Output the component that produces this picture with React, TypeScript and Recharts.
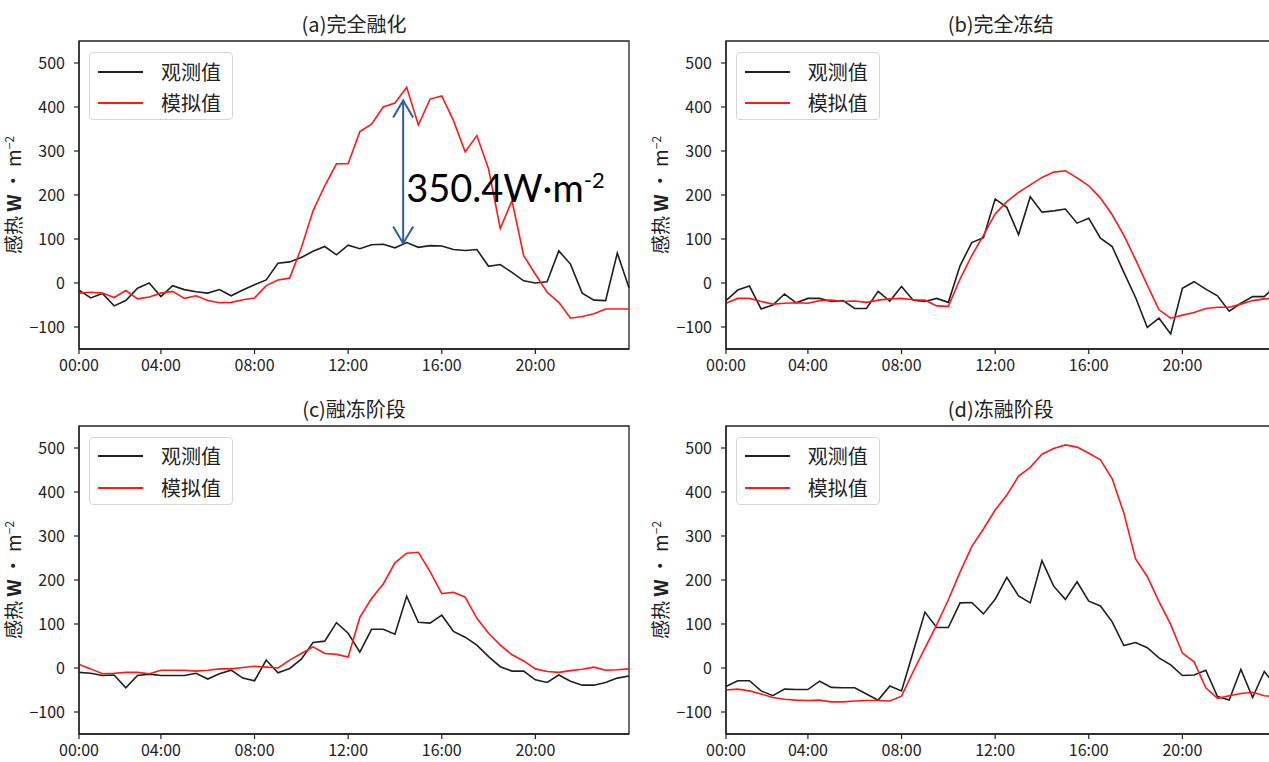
import React from 'react';
import { LineChart, Line, XAxis, YAxis, ReferenceLine, ReferenceArea } from 'recharts';

// x positions are half-hour steps; the figure labels index 0 as 00:00
const TICK_IDX = [0, 7, 15, 23, 31, 39];
const TICK_LABELS = ['00:00', '04:00', '08:00', '12:00', '16:00', '20:00'];
const Y_TICKS = [-100, 0, 100, 200, 300, 400, 500];
const SERIES_NAMES = ['观测值', '模拟值'];
const PANEL_TITLES = ['(a)完全融化', '(b)完全冻结', '(c)融冻阶段', '(d)冻融阶段'];

const obsA = [-16, -34, -24, -52, -40, -12, 0, -31, -6, -15, -20, -23, -15, -29, -16, -4, 7, 45, 48, 58, 72, 83, 64, 86, 78, 87, 88, 80, 92, 81, 85, 84, 76, 74, 76, 38, 42, 24, 5, 0, 3, 73, 43, -23, -39, -40, 68, -11];
const simA = [-23, -21, -23, -33, -17, -36, -32, -23, -19, -35, -29, -40, -45, -44, -38, -34, -6, 7, 11, 80, 164, 221, 271, 271, 344, 361, 400, 409, 445, 359, 418, 425, 369, 298, 335, 259, 124, 187, 62, 20, -21, -44, -80, -76, -70, -59, -59, -59];

const obsB = [-40, -16, -7, -59, -50, -25, -45, -35, -35, -42, -40, -58, -58, -19, -41, -8, -39, -42, -35, -44, 39, 92, 103, 191, 172, 110, 196, 161, 164, 168, 136, 147, 102, 83, 24, -33, -101, -80, -116, -12, 3, -14, -29, -64, -46, -31, -31, -5];
const simB = [-46, -35, -35, -42, -48, -46, -45, -46, -40, -39, -42, -41, -44, -39, -36, -35, -38, -39, -52, -53, 9, 62, 108, 157, 185, 206, 223, 240, 252, 255, 239, 221, 193, 155, 108, 53, -5, -61, -80, -73, -67, -58, -55, -55, -48, -40, -36, -35];

const obsC = [-10, -12, -17, -16, -45, -17, -14, -17, -17, -17, -12, -25, -13, -5, -23, -29, 18, -11, -1, 20, 58, 61, 103, 79, 36, 88, 88, 77, 163, 104, 102, 120, 83, 70, 52, 26, 3, -7, -7, -27, -33, -16, -30, -39, -39, -33, -23, -18];
const simC = [8, -2, -13, -12, -10, -10, -13, -5, -5, -5, -7, -5, -2, -2, 1, 4, 2, 0, 18, 33, 48, 33, 31, 25, 115, 158, 191, 239, 261, 263, 219, 169, 172, 161, 113, 79, 52, 30, 16, -2, -8, -10, -6, -3, 2, -5, -4, -2];

const obsD = [-42, -29, -29, -52, -63, -48, -49, -49, -30, -44, -45, -45, -59, -73, -41, -52, 37, 127, 92, 92, 148, 149, 123, 156, 206, 164, 148, 244, 186, 156, 196, 152, 141, 105, 51, 58, 46, 23, 7, -17, -16, -5, -65, -73, -3, -67, -8, -42];
const simD = [-50, -48, -52, -59, -67, -71, -73, -74, -73, -77, -77, -75, -74, -74, -75, -64, -8, 45, 98, 155, 218, 276, 316, 359, 393, 436, 456, 486, 499, 507, 502, 488, 473, 430, 352, 248, 208, 151, 99, 34, 14, -45, -69, -63, -58, -55, -63, -65];

// annotation in panel (a): gap between the two peaks
const GAP_X = 27.7;
const GAP_RANGE = [90, 415];
const GAP_TEXT = '350.4W·m';

const AXIS = '#222';
const OBS_COLOR = '#1f1f1f';
const SIM_COLOR = '#ff1a1a';
const CJK = '"Noto Sans CJK SC", "Noto Sans", sans-serif';

const W = 640;
const H = 380;

const fmtY = (v: number) => (v < 0 ? `−${Math.abs(v)}` : `${v}`);

const GapArrow = (p: any) => {
  const x = p.x1;
  const top = Math.min(p.y1, p.y2);
  const bot = Math.max(p.y1, p.y2);
  const c = '#2f5aa8';
  return (
    <g>
      <line x1={x} y1={top} x2={x} y2={bot} stroke={c} strokeWidth={2} />
      <polyline points={`${x - 10},${top + 17} ${x},${top} ${x + 10},${top + 17}`} fill="none" stroke={c} strokeWidth={2} />
      <polyline points={`${x - 10},${bot - 17} ${x},${bot} ${x + 10},${bot - 17}`} fill="none" stroke={c} strokeWidth={2} />
      <text x={x + 3} y={bot - 41} fontFamily="Lato, 'Open Sans', sans-serif" fontSize={38} fill="#000">
        <tspan>{GAP_TEXT}</tspan>
        <tspan fontSize={22} dy={-14}>-2</tspan>
      </text>
    </g>
  );
};

interface PanelProps {
  title: string;
  obs: number[];
  sim: number[];
  left: number;
  top: number;
  gap?: boolean;
}

const Panel: React.FC<PanelProps> = ({ title, obs, sim, left, top, gap }) => {
  const rows = obs.map((v, i) => ({ i, obs: v, sim: sim[i] }));
  return (
    <div style={{ position: 'absolute', left, top, width: W, height: H }}>
      <LineChart width={W} height={H} data={rows} margin={{ top: 41, right: 11, bottom: 1, left: 29 }}>
        <XAxis
          dataKey="i"
          type="number"
          domain={[0, 47]}
          ticks={TICK_IDX}
          tickFormatter={(v: number) => TICK_LABELS[TICK_IDX.indexOf(v)]}
          height={30}
          tickSize={5}
          tickMargin={6}
          axisLine={{ stroke: AXIS, strokeWidth: 1.3 }}
          tickLine={{ stroke: AXIS, strokeWidth: 1.2 }}
          tick={{ fill: AXIS, fontSize: 16, fontFamily: CJK }}
          interval={0}
        />
        <YAxis
          type="number"
          domain={[-150, 550]}
          ticks={Y_TICKS}
          tickFormatter={fmtY}
          width={50}
          tickSize={5}
          tickMargin={9}
          axisLine={{ stroke: AXIS, strokeWidth: 1.3 }}
          tickLine={{ stroke: AXIS, strokeWidth: 1.2 }}
          tick={{ fill: AXIS, fontSize: 16, fontFamily: CJK }}
          interval={0}
        />
        {/* frame round the plot area */}
        <ReferenceArea x1={0} x2={47} y1={-150} y2={550} fill="none" stroke={AXIS} strokeWidth={1.3} fillOpacity={0} />
        <Line dataKey="obs" name={SERIES_NAMES[0]} stroke={OBS_COLOR} strokeWidth={1.6} dot={false} isAnimationActive={false} />
        <Line dataKey="sim" name={SERIES_NAMES[1]} stroke={SIM_COLOR} strokeWidth={1.6} dot={false} isAnimationActive={false} />
        {gap && (
          <ReferenceLine
            segment={[{ x: GAP_X, y: GAP_RANGE[0] }, { x: GAP_X, y: GAP_RANGE[1] }]}
            shape={GapArrow}
          />
        )}
      </LineChart>

      {/* title */}
      <div style={{ position: 'absolute', left: 79, width: 550, top: 13, textAlign: 'center', fontFamily: CJK, fontSize: 20, lineHeight: '22px', color: '#222' }}>
        {title}
      </div>

      {/* y label */}
      <div
        style={{
          position: 'absolute', left: 13, top: 195, width: 200, marginLeft: -100, marginTop: -12,
          textAlign: 'center', transform: 'rotate(-90deg)', fontFamily: CJK, fontSize: 19, lineHeight: '24px', color: '#222', whiteSpace: 'nowrap'
        }}
      >
        感热 <b style={{ fontWeight: 700 }}>W</b> · m<sup style={{ fontSize: 12, verticalAlign: 'top', position: 'relative', top: -4 }}>−2</sup>
      </div>

      {/* legend */}
      <div style={{ position: 'absolute', left: 89, top: 52, width: 144, height: 68, border: '1px solid #d6d6d6', borderRadius: 4, background: 'rgba(255,255,255,0.85)', boxSizing: 'border-box' }}>
        {SERIES_NAMES.map((n, k) => (
          <div key={n} style={{ position: 'absolute', left: 0, top: 18.5 + k * 31.4 - 12, height: 24, width: '100%' }}>
            <div style={{ position: 'absolute', left: 8, top: 11, width: 45, height: 2, background: k === 0 ? OBS_COLOR : SIM_COLOR }} />
            <div style={{ position: 'absolute', left: 71, top: 0, fontFamily: CJK, fontSize: 20, lineHeight: '24px', color: '#222' }}>{n}</div>
          </div>
        ))}
      </div>
    </div>
  );
};

export default function App() {
  return (
    <div style={{ position: 'absolute', left: 0, top: 0, width: 1269, height: 762, overflow: 'hidden', background: '#fff' }}>
      <Panel title={PANEL_TITLES[0]} obs={obsA} sim={simA} left={0} top={0} gap />
      <Panel title={PANEL_TITLES[1]} obs={obsB} sim={simB} left={646.7} top={0} />
      <Panel title={PANEL_TITLES[2]} obs={obsC} sim={simC} left={0} top={384.7} />
      <Panel title={PANEL_TITLES[3]} obs={obsD} sim={simD} left={646.7} top={384.7} />
    </div>
  );
}
